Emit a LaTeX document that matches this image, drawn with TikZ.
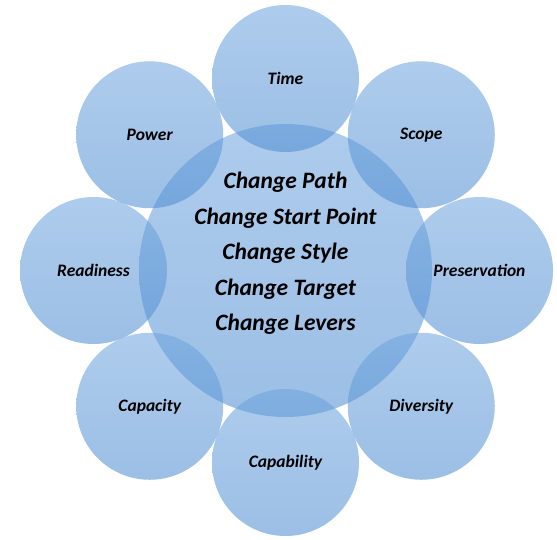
\documentclass[tikz,border=0pt]{standalone}
\usepackage{fontspec}
\setmainfont{Carlito}
\definecolor{bubbletop}{RGB}{112,165,222}
\definecolor{bubblebot}{RGB}{80,142,210}
\begin{document}
\begin{tikzpicture}[x=1pt,y=1pt,
  bubble/.style={circle,minimum size=147pt,inner sep=0pt,top color=bubbletop,bottom color=bubblebot,
    fill opacity=0.57,text opacity=1,font=\bfseries\itshape\fontsize{17.5}{19}\selectfont},
  hub/.style={bubble,minimum size=293pt},
  hubtext/.style={align=center,font=\bfseries\itshape\fontsize{23.5}{35.5}\selectfont}]
\useasboundingbox (0,0) rectangle (557,-539);
% centre circle
\node[hub] (hub) at (285.5,-270.5) {};
% outer circles
\node[bubble] (time) at ([shift={(90:192)}]hub.center) {Time};
\node[bubble] (scope) at ([shift={(45:192)}]hub.center) {Scope};
\node[bubble] (preservation) at ([shift={(0:194)}]hub.center) {Preservation};
\node[bubble] (diversity) at ([shift={(-45:192)}]hub.center) {Diversity};
\node[bubble] (capability) at ([shift={(-90:192)}]hub.center) {Capability};
\node[bubble] (capacity) at ([shift={(-135:192)}]hub.center) {Capacity};
\node[bubble] (readiness) at ([shift={(180:192)}]hub.center) {Readiness};
\node[bubble] (power) at ([shift={(135:192)}]hub.center) {Power};
% centre text
\node[hubtext] (levers) at ([yshift=17]hub.center) {Change Path\\Change Start Point\\Change Style\\Change Target\\Change Levers};
\end{tikzpicture}
\end{document}
